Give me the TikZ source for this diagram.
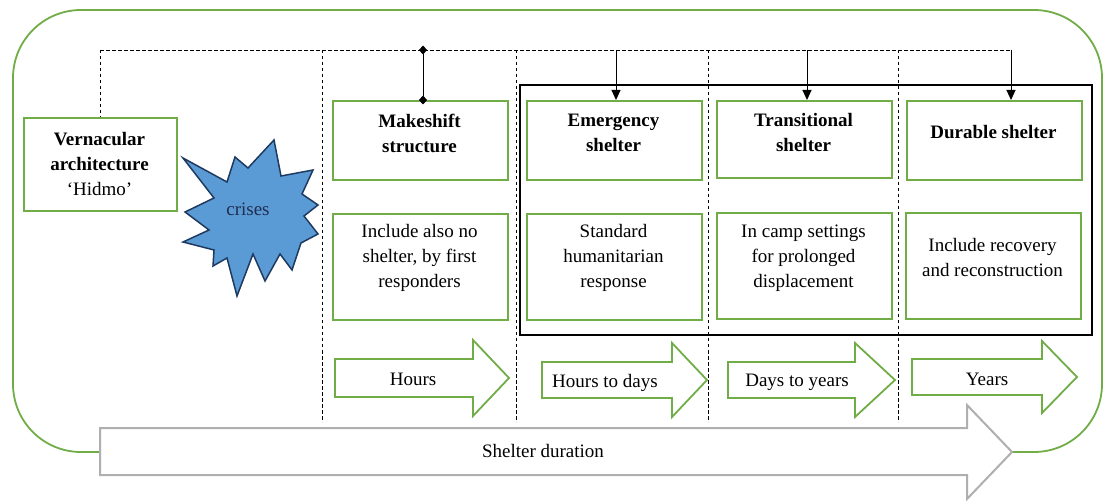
\documentclass[tikz,border=0pt]{standalone}
\usepackage{fontspec}
\setmainfont{Liberation Serif}
\usetikzlibrary{arrows.meta}
\definecolor{ogreen}{HTML}{70AD47}
\definecolor{ogray}{HTML}{AFAFAF}
\definecolor{starfill}{HTML}{5B9BD5}
\definecolor{staredge}{HTML}{1F3A60}
\definecolor{startext}{HTML}{1F2D50}
\begin{document}
\begin{tikzpicture}[x=1pt,y=-1pt,
  gbox/.style={draw=ogreen, line width=1.8pt, anchor=north west, inner sep=0pt},
  txt/.style={font=\fontsize{19}{25}\selectfont, align=center, inner sep=0pt},
  btxt/.style={txt, font=\fontsize{19}{25}\selectfont\bfseries},
  dline/.style={line width=0.8pt, dash pattern=on 3.5pt off 2.5pt},
  garrow/.style={draw=ogreen, line width=1.8pt, fill=white, line join=miter},
  grayarrow/.style={draw=ogray, line width=2pt, fill=white, line join=miter},
  darrow/.style={line width=1pt, -{Triangle[length=10pt,width=9pt]}},
  diam/.style={line width=1pt, {Diamond[length=9pt,width=8pt]}-{Diamond[length=9pt,width=8pt]}, shorten <=-4.5pt, shorten >=-4.5pt},
  crisis/.style={draw=staredge, line width=1.5pt, fill=starfill, line join=miter}
]
\useasboundingbox (0,0) rectangle (1105,502);

% outer rounded frame
\draw[draw=ogreen, line width=1.8pt, rounded corners=68pt] (13,10) rectangle (1102,452);

% black frame
\draw[line width=1.8pt] (520,85) rectangle (1092,335);

% top dashed line and coordinates
\coordinate (t0) at (100,50);
\coordinate (t1) at (322,50);
\coordinate (tm) at (423,50);
\coordinate (t2) at (516,50);
\coordinate (te) at (616,50);
\coordinate (t3) at (708,50);
\coordinate (tt) at (807,50);
\coordinate (t4) at (898,50);
\coordinate (td) at (1011,50);
\coordinate (b1) at (322,422);
\coordinate (b2) at (516,422);
\coordinate (b3) at (708,422);
\coordinate (b4) at (898,422);
\draw[dline] (t0) -- (td);
\draw[dline] (t1) -- (b1);
\draw[dline] (t2) -- (b2);
\draw[dline] (t3) -- (b3);
\draw[dline] (t4) -- (b4);

% vernacular
\node[gbox, minimum width=153pt, minimum height=93pt] (vern) at (23,117) {};
\node[txt] (verntxt) at (99.5,164) {\textbf{Vernacular}\\\textbf{architecture}\\‘Hidmo’};
\draw[dline] (t0) -- (vern.north -| t0);

% crises explosion
\draw[crisis] (274,140) -- (281,176) -- (313,170) -- (302,194) -- (318,205) -- (304,216)
  -- (318,234) -- (301,243) -- (292,270) -- (280,254) -- (265,281) -- (253,254)
  -- (237,296) -- (227,258) -- (213,266) -- (214,250) -- (183,242) -- (209,230)
  -- (185,212) -- (214,198) -- (183,158) -- (227,182) -- (235,157) -- (248,168) -- cycle;
\node[txt, text=startext] (crises) at (248,209) {crises};

% columns
\node[gbox, minimum width=175pt, minimum height=79pt] (ms) at (332,100) {};
\node[gbox, minimum width=175pt, minimum height=106pt] (msd) at (332,213) {};
\node[btxt] (mst) at (419.5,133) {Makeshift\\structure};
\node[txt] (msdt) at (419.5,258) {Include also no\\shelter, by first\\responders};

\node[gbox, minimum width=175pt, minimum height=79pt] (em) at (526,100) {};
\node[gbox, minimum width=175pt, minimum height=106pt] (emd) at (526,213) {};
\node[btxt] (emt) at (613.5,133) {Emergency\\shelter};
\node[txt] (emdt) at (613.5,258) {Standard\\humanitarian\\response};

\node[gbox, minimum width=175pt, minimum height=77pt] (tr) at (716,100) {};
\node[gbox, minimum width=175pt, minimum height=106pt] (trd) at (716,212) {};
\node[btxt] (trt) at (803.5,133) {Transitional\\shelter};
\node[txt] (trdt) at (803.5,258) {In camp settings\\for prolonged\\displacement};

\node[gbox, minimum width=175pt, minimum height=79pt] (du) at (906,100) {};
\node[gbox, minimum width=175pt, minimum height=106pt] (dud) at (905,212) {};
\node[btxt] (dut) at (993.5,132) {Durable shelter};
\node[txt] (dudt) at (992.5,258) {Include recovery\\and reconstruction};

% connectors from top line
\draw[diam] (tm) -- (tm |- ms.north);
\draw[darrow] (te) -- (te |- em.north);
\draw[darrow] (tt) -- (tt |- tr.north);
\draw[darrow] (td) -- (td |- du.north);

% block arrows
\draw[garrow] (335,359) -- (473,359) -- (473,340) -- (509,378) -- (473,416) -- (473,397) -- (335,397) -- cycle;
\node[txt] (h1) at (413,379) {Hours};
\draw[garrow] (542,362) -- (672,362) -- (672,343) -- (707,380) -- (672,417) -- (672,398) -- (542,398) -- cycle;
\node[txt] (h2) at (605,383) {Hours to days};
\draw[garrow] (728,362) -- (855,362) -- (855,343) -- (895,380) -- (855,417) -- (855,398) -- (728,398) -- cycle;
\node[txt] (h3) at (797,382) {Days to years};
\draw[garrow] (912,359) -- (1042,359) -- (1042,341) -- (1077,377) -- (1042,413) -- (1042,395) -- (912,395) -- cycle;
\node[txt] (h4) at (987,379) {Years};

% shelter duration
\draw[grayarrow] (100,428) -- (967,428) -- (967,405) -- (1012,452) -- (967,499) -- (967,475) -- (100,475) -- cycle;
\node[txt] (sd) at (543,451) {Shelter duration};
\end{tikzpicture}
\end{document}
